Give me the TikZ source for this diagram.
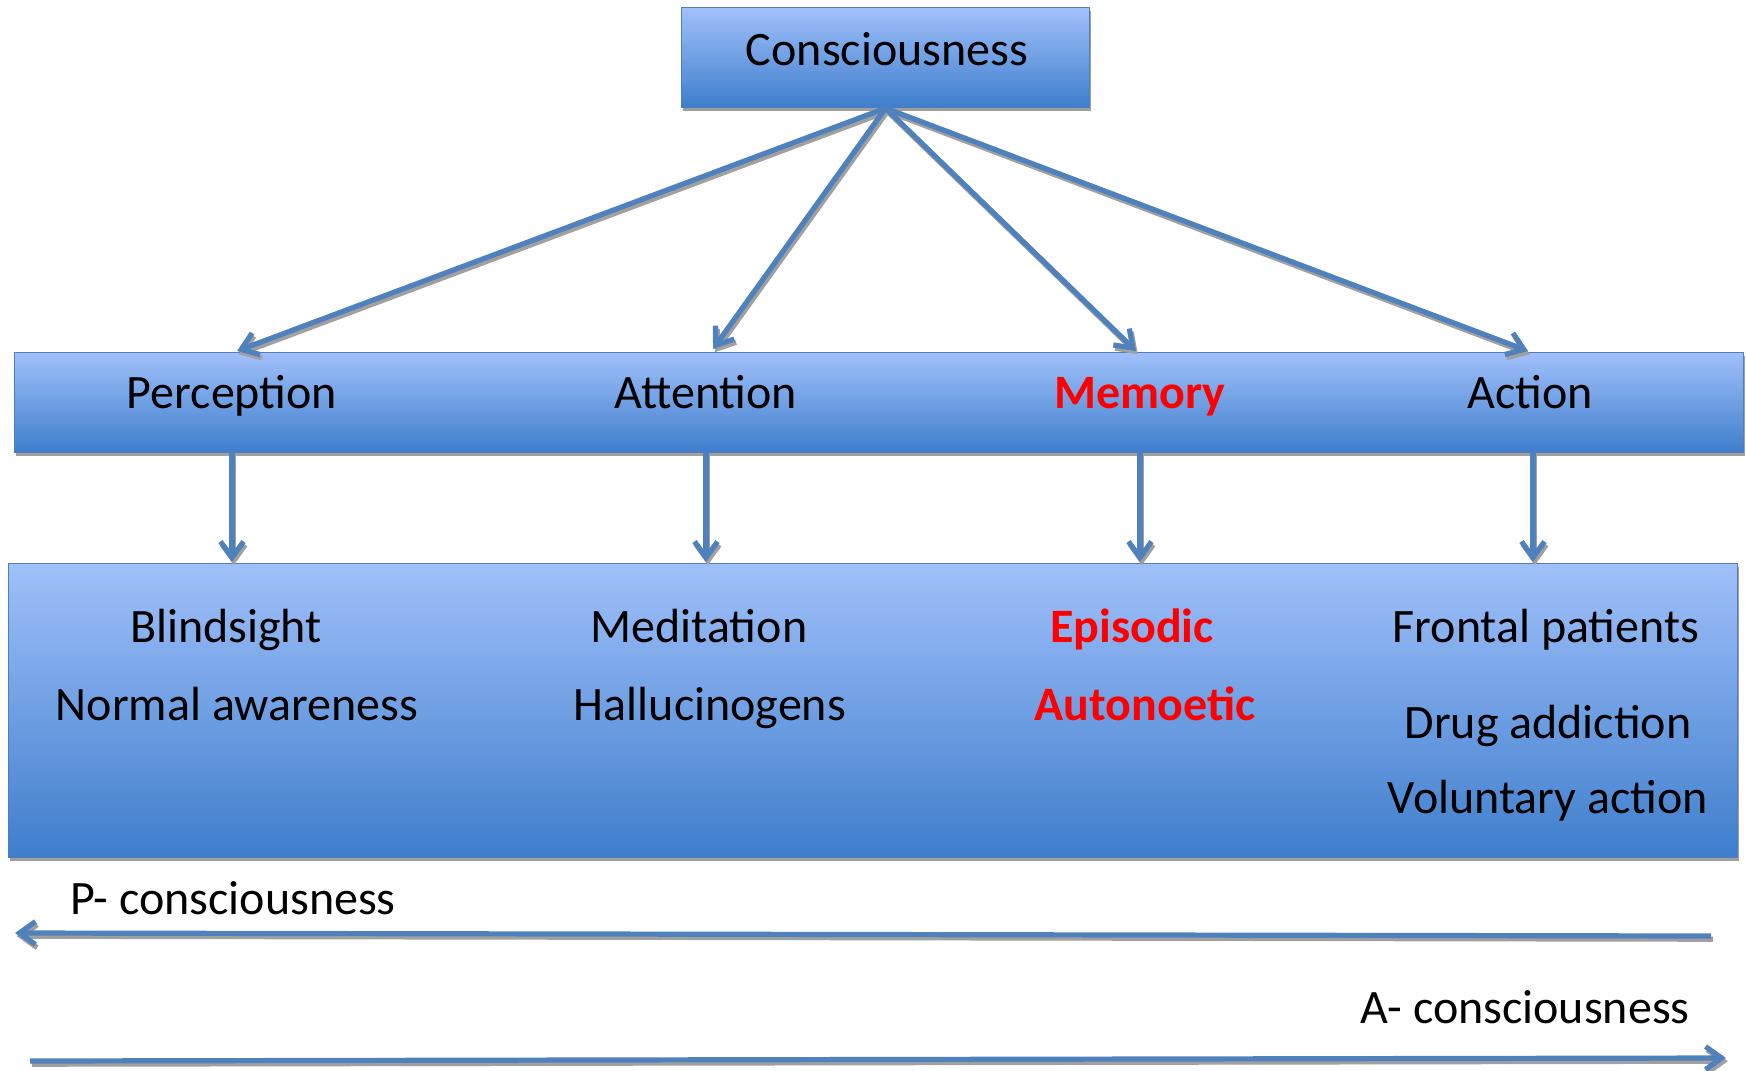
\documentclass[tikz,border=0pt]{standalone}
\usepackage{fontspec}
\setmainfont{Carlito}
\usetikzlibrary{arrows.meta,shadows,calc}
\definecolor{arrowblue}{RGB}{79,129,189}
\definecolor{boxtop}{RGB}{160,192,250}
\definecolor{boxbot}{RGB}{62,126,204}
\definecolor{edgeblue}{RGB}{80,125,190}
\definecolor{shadegray}{RGB}{160,160,160}
\begin{document}
\begin{tikzpicture}[x=0.5pt,y=-0.5pt,
  box/.style={draw=edgeblue, line width=0.6pt, top color=boxtop, bottom color=boxbot,
    inner sep=0pt, anchor=north west,
    drop shadow={shadow xshift=0.8pt, shadow yshift=-1.8pt, fill=shadegray, opacity=1}},
  lbl/.style={font=\fontsize{24}{28}\selectfont, text=black, inner sep=0pt,
    text height=20.5pt, text depth=5pt},
  redlbl/.style={lbl, font=\fontsize{24}{28}\selectfont\bfseries, text=red},
  conn/.style={draw=arrowblue, line width=2.6pt,
    -{Straight Barb[length=8pt,width=11.5pt]}},
  connshadow/.style={conn, draw=shadegray}
]
\useasboundingbox (0,0) rectangle (1746,1071);

% boxes
\node[box, minimum width=204pt, minimum height=50pt] (top) at (681,7) {};
\node[box, minimum width=864.5pt, minimum height=50pt] (mid) at (14,352) {};
\node[box, minimum width=864.5pt, minimum height=147pt] (bot) at (8,563) {};

% labels
\node[lbl] (cons) at (887,50) {Consciousness};
\node[lbl] (perc) at (232,393) {Perception};
\node[lbl] (attn) at (706,393) {Attention};
\node[redlbl] (mem) at (1140,393) {Memory};
\node[lbl] (act) at (1530,393) {Action};

\node[lbl] (blind) at (226,627) {Blindsight};
\node[lbl] (normal) at (237,705) {Normal awareness};
\node[lbl] (medit) at (699,627) {Meditation};
\node[lbl] (halluc) at (710,705) {Hallucinogens};
\node[redlbl] (epis) at (1132,627) {Episodic};
\node[redlbl] (auto) at (1145,705) {Autonoetic};
\node[lbl] (front) at (1546,627) {Frontal patients};
\node[lbl] (drug) at (1548,723) {Drug addiction};
\node[lbl] (volun) at (1548,798) {Voluntary action};

\node[lbl, anchor=west] (pcons) at (70,899) {P- consciousness};
\node[lbl, anchor=east] (acons) at (1690,1008) {A- consciousness};

% arrow end points
\coordinate (pt) at (237,351);
\coordinate (at) at (713,349);
\coordinate (mt) at (1136,351);
\coordinate (ct) at (1528,351);

\coordinate (ps) at (232,452);
\coordinate (as) at (706,452);
\coordinate (ms) at (1140,452);
\coordinate (cs) at (1533,452);
\coordinate (pe) at (232,562);
\coordinate (ae) at (706,562);
\coordinate (me) at (1140,562);
\coordinate (ce) at (1533,562);

\coordinate (pstart) at (1711,936);
\coordinate (pend) at (15,933);
\coordinate (astart) at (30,1061);
\coordinate (aend) at (1726,1058);

% connector shadows
\begin{scope}[transform canvas={xshift=0.9pt,yshift=-1.6pt}]
\draw[connshadow] (top.south) -- (pt);
\draw[connshadow] (top.south) -- (at);
\draw[connshadow] (top.south) -- (mt);
\draw[connshadow] (top.south) -- (ct);
\draw[connshadow] (ps) -- (pe);
\draw[connshadow] (as) -- (ae);
\draw[connshadow] (ms) -- (me);
\draw[connshadow] (cs) -- (ce);
\draw[connshadow] (pstart) -- (pend);
\draw[connshadow] (astart) -- (aend);
\end{scope}

% connectors
\draw[conn] (top.south) -- (pt);
\draw[conn] (top.south) -- (at);
\draw[conn] (top.south) -- (mt);
\draw[conn] (top.south) -- (ct);

\draw[conn] (ps) -- (pe);
\draw[conn] (as) -- (ae);
\draw[conn] (ms) -- (me);
\draw[conn] (cs) -- (ce);

\draw[conn] (pstart) -- (pend);
\draw[conn] (astart) -- (aend);
\end{tikzpicture}
\end{document}
